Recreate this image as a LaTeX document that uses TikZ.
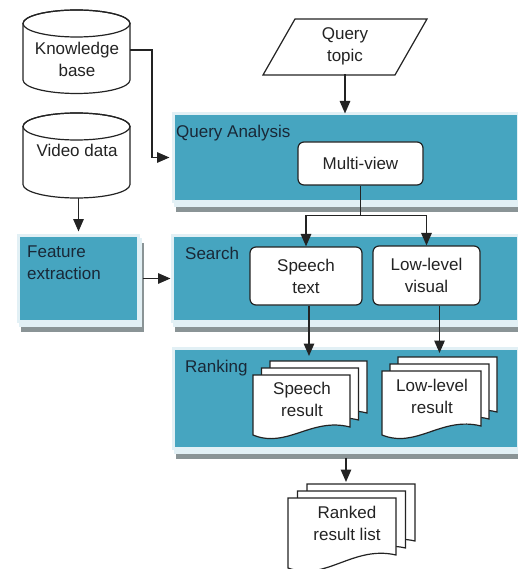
\documentclass[tikz,border=0pt]{standalone}
\usepackage{fontspec}
\setmainfont{Liberation Sans}
\usetikzlibrary{arrows.meta}

\definecolor{bandfill}{RGB}{70,165,192}
\definecolor{bandedge}{RGB}{226,240,245}
\definecolor{bandshadow}{RGB}{138,148,150}
\definecolor{inkline}{RGB}{35,35,35}
\definecolor{labelink}{RGB}{25,40,55}

% one sheet of a document stack: top-left corner, width, height, rise of the
% right end of the wavy bottom edge
\newcommand\docsheet[5]{%
  \filldraw[shapeline] (#1,#2) -- (#1+#3,#2) -- (#1+#3,#2+#4-#5)
    .. controls (#1+0.6*#3,#2+#4-#5-10) and (#1+0.35*#3,#2+#4+14) .. (#1,#2+#4) -- cycle;}

\begin{document}
\begin{tikzpicture}[x=1pt,y=-1pt,
  every node/.style={font=\fontsize{17}{22}\selectfont, text=inkline},
  shapeline/.style={draw=inkline, line width=1.2pt, fill=white},
  band/.style={rectangle, anchor=north west, inner sep=0pt, outer sep=0pt,
    fill=bandfill, draw=bandedge, line width=3pt,
    preaction={fill=bandshadow, draw=bandshadow, line width=3pt,
      transform canvas={shift={(4pt,-9pt)}}},
    preaction={fill=bandedge, draw=bandedge, line width=3pt,
      transform canvas={shift={(2pt,-4pt)}}}},
  lbl/.style={text=labelink, inner sep=0pt, anchor=west, align=left},
  box/.style={draw=inkline, fill=white, rounded corners=6pt, line width=1.2pt,
    align=center, inner sep=2pt},
  plain/.style={align=center, inner sep=0pt},
  stackbox/.style={rectangle, inner sep=0pt, outer sep=0pt},
  link/.style={draw=inkline, line width=1.4pt},
  arrow/.style={link, -{Triangle[length=12.5pt,width=10.5pt]}}]

\useasboundingbox (0,0) rectangle (518,569);

% ---- stage bands ----
\node[band, minimum width=345pt, minimum height=88pt]  (qa) at (173.5,113.5) {};
\node[band, minimum width=346pt, minimum height=86pt]  (se) at (172.5,235.5) {};
\node[band, minimum width=345pt, minimum height=100pt] (rk) at (173.5,348.5) {};
\node[band, minimum width=120pt, minimum height=86pt]  (fe) at (18.5,235.5) {};

\node[lbl] (qalbl) at (176,133) {Query Analysis};
\node[lbl] (selbl) at (185,253) {Search};
\node[lbl] (rklbl) at (185,368) {Ranking};
\node[lbl] (felbl) at (27,263) {Feature\\extraction};

% ---- data stores ----
\filldraw[shapeline] (23,23.5) -- (23,80)
  arc[start angle=180, end angle=0, x radius=53.5, y radius=13.5] -- (130,23.5)
  arc[start angle=0, end angle=-180, x radius=53.5, y radius=13.5] -- cycle;
\draw[shapeline, fill=none] (76.5,23.5) ellipse[x radius=53.5, y radius=13.5];
\node[plain] (kb) at (77,59) {Knowledge\\base};
\coordinate (kbR) at (130,50);

\filldraw[shapeline] (23,126.5) -- (23,184.5)
  arc[start angle=180, end angle=0, x radius=53.5, y radius=13.5] -- (130,126.5)
  arc[start angle=0, end angle=-180, x radius=53.5, y radius=13.5] -- cycle;
\draw[shapeline, fill=none] (76.5,126.5) ellipse[x radius=53.5, y radius=13.5];
\node[plain] (vd) at (77,150) {Video data};
\coordinate (vdB) at (78.5,198);

% ---- query topic ----
\filldraw[shapeline] (295,19) -- (427,19) -- (395,75) -- (263,75) -- cycle;
\node[plain, minimum height=56pt] (qt) at (345,46) {Query\\topic};

% ---- processing steps ----
\node[box, minimum width=125pt, minimum height=43pt] (mv) at (360.5,163.5) {Multi-view};
\node[box, minimum width=112pt, minimum height=58pt] (sp) at (306,276) {Speech\\text};
\node[box, minimum width=107pt, minimum height=59pt] (lv) at (426.5,275.5) {Low-level\\visual};

% ---- result stacks ----
\docsheet{270}{361}{97}{60}{8}
\docsheet{261.5}{368}{97}{60}{8}
\docsheet{253}{375}{97}{60}{8}
\node[stackbox, minimum width=112pt, minimum height=74pt] (srs) at (309,398) {};
\node[plain] (sr) at (302,399.5) {Speech\\result};

\docsheet{398}{357}{99}{64}{9}
\docsheet{390}{364}{99}{64}{9}
\docsheet{382}{371}{99}{64}{9}
\node[stackbox, minimum width=115pt, minimum height=78pt] (lrs) at (439.5,396) {};
\node[plain] (lr) at (432,396.5) {Low-level\\result};

\docsheet{307}{484}{108}{70}{13}
\docsheet{297.5}{491}{108}{70}{13}
\docsheet{288}{498}{108}{70}{13}
\node[stackbox, minimum width=127pt, minimum height=84pt] (rls) at (351.5,526) {};
\node[plain] (rl) at (347,523.5) {Ranked\\result list};

% ---- connectors ----
\draw[arrow] (qt.south) -- (qt.south |- qa.north);
\draw[arrow, shorten >=4pt] (kbR) -- ++(22,0) |- (qa.west);
\draw[arrow, shorten >=4pt] (vdB) -- (vdB |- fe.north);
\draw[arrow, shorten <=4pt, shorten >=2pt] (fe.east) -- (se.west);
\draw[link] (mv.south) -- ++(0,30) coordinate (fork);
\draw[arrow] (fork) -| (sp.north);
\draw[arrow] (fork) -| (lv.north);
\draw[arrow, shorten >=5pt] (sp.south -| srs.north) -- (srs.north);
\draw[arrow, shorten >=4pt] (lv.south -| lrs.north) -- (lrs.north);
\draw[arrow, shorten >=2pt] ([yshift=-9pt]rk.south) -- (rk.south |- rls.north);

\end{tikzpicture}
\end{document}
